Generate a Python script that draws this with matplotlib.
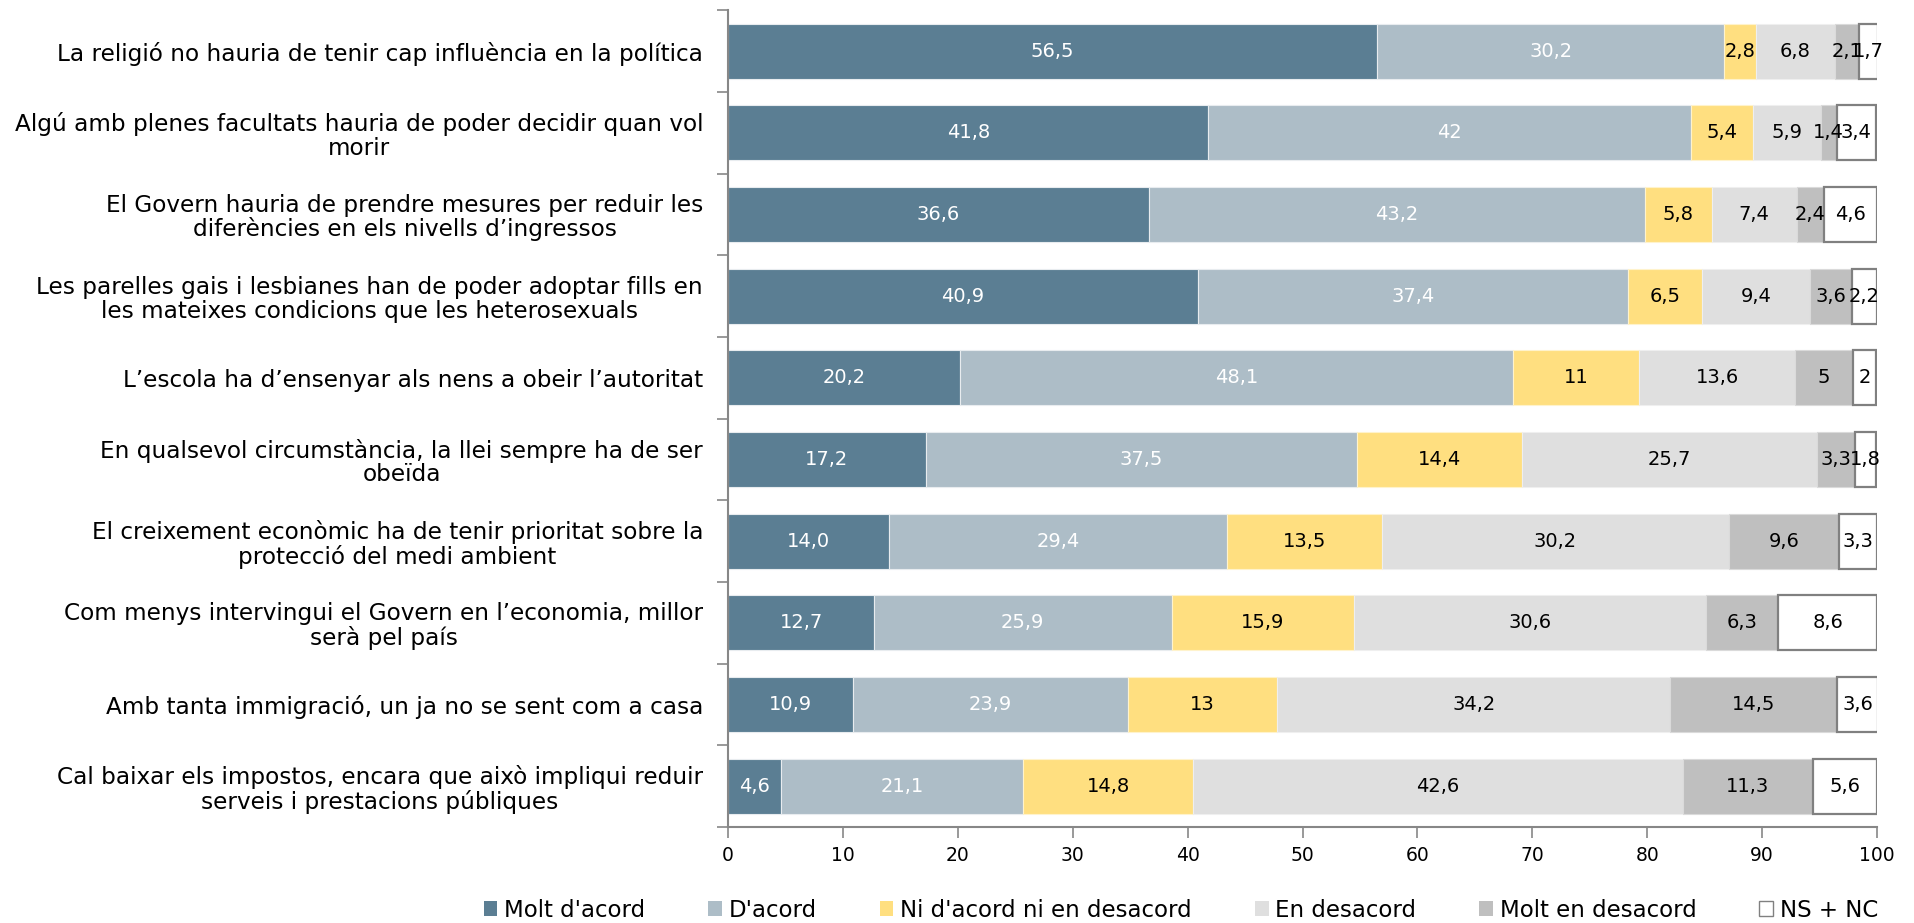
import matplotlib
matplotlib.use("Agg")
import matplotlib.pyplot as plt
from matplotlib.patches import Patch

plt.rcParams['font.family'] = ['DejaVu Sans']

categories = [
    "La religió no hauria de tenir cap influència en la política",
    "Algú amb plenes facultats hauria de poder decidir quan vol\nmorir",
    "El Govern hauria de prendre mesures per reduir les\ndiferències en els nivells d’ingressos",
    "Les parelles gais i lesbianes han de poder adoptar fills en\nles mateixes condicions que les heterosexuals",
    "L’escola ha d’ensenyar als nens a obeir l’autoritat",
    "En qualsevol circumstància, la llei sempre ha de ser\nobeïda",
    "El creixement econòmic ha de tenir prioritat sobre la\nprotecció del medi ambient",
    "Com menys intervingui el Govern en l’economia, millor\nserà pel país",
    "Amb tanta immigració, un ja no se sent com a casa",
    "Cal baixar els impostos, encara que això impliqui reduir\nserveis i prestacions públiques",
]

series_names = ["Molt d'acord", "D'acord", "Ni d'acord ni en desacord",
                "En desacord", "Molt en desacord", "NS + NC"]

molt_acord = [56.5, 41.8, 36.6, 40.9, 20.2, 17.2, 14.0, 12.7, 10.9, 4.6]
acord = [30.2, 42, 43.2, 37.4, 48.1, 37.5, 29.4, 25.9, 23.9, 21.1]
ni_ni = [2.8, 5.4, 5.8, 6.5, 11, 14.4, 13.5, 15.9, 13, 14.8]
desacord = [6.8, 5.9, 7.4, 9.4, 13.6, 25.7, 30.2, 30.6, 34.2, 42.6]
molt_desacord = [2.1, 1.4, 2.4, 3.6, 5, 3.3, 9.6, 6.3, 14.5, 11.3]
ns_nc = [1.7, 3.4, 4.6, 2.2, 2, 1.8, 3.3, 8.6, 3.6, 5.6]

label_molt_acord = ["56,5", "41,8", "36,6", "40,9", "20,2", "17,2", "14,0", "12,7", "10,9", "4,6"]
label_acord = ["30,2", "42", "43,2", "37,4", "48,1", "37,5", "29,4", "25,9", "23,9", "21,1"]
label_ni_ni = ["2,8", "5,4", "5,8", "6,5", "11", "14,4", "13,5", "15,9", "13", "14,8"]
label_desacord = ["6,8", "5,9", "7,4", "9,4", "13,6", "25,7", "30,2", "30,6", "34,2", "42,6"]
label_molt_desacord = ["2,1", "1,4", "2,4", "3,6", "5", "3,3", "9,6", "6,3", "14,5", "11,3"]
label_ns_nc = ["1,7", "3,4", "4,6", "2,2", "2", "1,8", "3,3", "8,6", "3,6", "5,6"]

xticks = [0, 10, 20, 30, 40, 50, 60, 70, 80, 90, 100]

series = [molt_acord, acord, ni_ni, desacord, molt_desacord, ns_nc]
labels = [label_molt_acord, label_acord, label_ni_ni, label_desacord,
          label_molt_desacord, label_ns_nc]
colors = ["#5B7E93", "#ADBDC7", "#FFDF80", "#DFDFDF", "#BFBFBF", "#FFFFFF"]
edgecolors = ["#E8ECEF", "#E8ECEF", "#FFF3CC", "#EFEFEF", "#DADADA", "#808080"]
linewidths = [0.8, 0.8, 0.8, 0.8, 0.8, 1.6]
textcolors = ["white", "white", "black", "black", "black", "black"]

fig = plt.figure(figsize=(19.14, 9.23), dpi=100)
ax = fig.add_axes([0.3804, 0.104, 0.6003, 0.8848])

y = list(range(len(categories)))
left = [0.0] * len(categories)
for vals, labs, c, ec, lw, tc in zip(series, labels, colors, edgecolors, linewidths, textcolors):
    bars = ax.barh(y, vals, left=left, height=0.67, color=c, edgecolor=ec, linewidth=lw, zorder=2)
    for b, lab in zip(bars, labs):
        ax.text(b.get_x() + b.get_width() / 2, b.get_y() + b.get_height() / 2, lab,
                ha='center', va='center', color=tc, fontsize=14, zorder=3)
    left = [l + v for l, v in zip(left, vals)]

ax.set_xlim(0, 100)
ax.set_ylim(len(categories) - 0.5, -0.5)

ax.set_xticks(xticks)
ax.set_xticklabels([str(t) for t in xticks], fontsize=13.5)
ax.set_yticks([i - 0.5 for i in range(len(categories) + 1)])
ax.set_yticklabels([])
ax.set_yticks(y, minor=True)
ax.set_yticklabels(categories, minor=True, fontsize=16.7, multialignment='center')
for t in ax.get_yticklabels(minor=True):
    t.set_linespacing(1.05)
ax.tick_params(axis='y', which='minor', length=0, pad=18)
ax.tick_params(axis='y', which='major', length=8, width=1.2, color='#878787', direction='out')
ax.tick_params(axis='x', which='major', length=8, width=1.2, color='#878787', direction='out', pad=6)

for s in ['top', 'right']:
    ax.spines[s].set_visible(False)
for s in ['left', 'bottom']:
    ax.spines[s].set_color('#878787')
    ax.spines[s].set_linewidth(1.5)

handles = [Patch(facecolor=c, edgecolor=(ec if i == 5 else c), linewidth=(1.0 if i == 5 else 0))
           for i, (c, ec) in enumerate(zip(colors, edgecolors))]
fig.legend(handles, series_names, loc='center', bbox_to_anchor=(0.617, 0.014),
           ncol=6, frameon=False, fontsize=16.5, handlelength=0.6, handleheight=0.6,
           handletextpad=0.3, columnspacing=2.74, borderpad=0)

fig.savefig("out.png", dpi=100)
